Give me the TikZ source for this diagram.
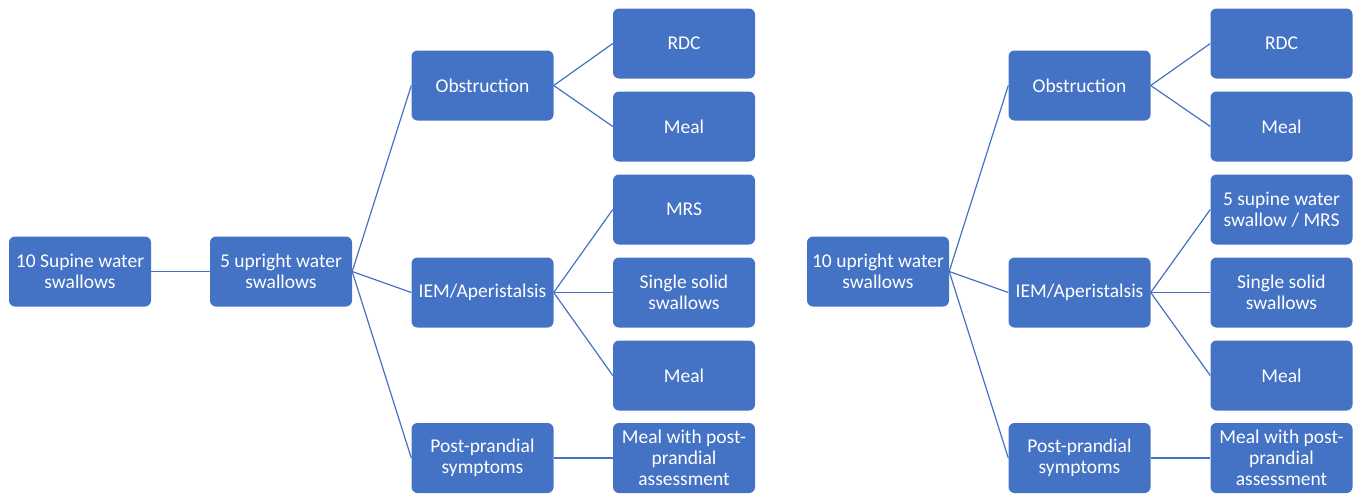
\documentclass[tikz,border=0pt]{standalone}
\usepackage{fontspec}
\setmainfont{Carlito}
\usepackage{tikz}
\definecolor{boxblue}{HTML}{4472C4}

\begin{document}
\begin{tikzpicture}[x=1pt, y=-1pt, every node/.style = {shape=rectangle, rounded corners=6pt, fill=boxblue, text=white, align=center,
			minimum width=142pt, minimum height=70pt, inner sep=2pt, font=\fontsize{19.5}{21}\selectfont},
			link/.style = {draw=boxblue, line width=1.2pt}]
			\useasboundingbox (0,0) rectangle (1358,493);
			% left tree
			\node (sup) at (80,271.5) {10 Supine water\\swallows};
			\node (upfive) at (281,271.5) {5 upright water\\swallows};
			\node (obsA) at (482.5,85.5) {Obstruction};
			\node (iemA) at (482.5,292.5) {IEM/Aperistalsis};
			\node (postA) at (482.5,458) {Post-prandial\\symptoms};
			\node (rdcA) at (684,43.5) {RDC};
			\node (mealA) at (684,126.5) {Meal};
			\node (mrsA) at (684,209.5) {MRS};
			\node (solidA) at (684,292.5) {Single solid\\swallows};
			\node (mealB) at (684,375.5) {Meal};
			\node (mealpostA) at (684,458) {Meal with post-\\prandial\\assessment};
			\draw[link] (sup.east) -- (upfive.west);
			\draw[link] (upfive.east) -- (obsA.west);
			\draw[link] (upfive.east) -- (iemA.west);
			\draw[link] (upfive.east) -- (postA.west);
			\draw[link] (obsA.east) -- (rdcA.west);
			\draw[link] (obsA.east) -- (mealA.west);
			\draw[link] (iemA.east) -- (mrsA.west);
			\draw[link] (iemA.east) -- (solidA.west);
			\draw[link] (iemA.east) -- (mealB.west);
			\draw[link] (postA.east) -- (mealpostA.west);
			% right tree
			\node (upten) at (878,271.5) {10 upright water\\swallows};
			\node (obsB) at (1079.5,85.5) {Obstruction};
			\node (iemB) at (1079.5,292.5) {IEM/Aperistalsis};
			\node (postB) at (1079.5,458) {Post-prandial\\symptoms};
			\node (rdcB) at (1281.5,43.5) {RDC};
			\node (mealC) at (1281.5,126.5) {Meal};
			\node (mrsB) at (1281.5,209.5) {5 supine water\\swallow / MRS};
			\node (solidB) at (1281.5,292.5) {Single solid\\swallows};
			\node (mealD) at (1281.5,375.5) {Meal};
			\node (mealpostB) at (1281.5,458) {Meal with post-\\prandial\\assessment};
			\draw[link] (upten.east) -- (obsB.west);
			\draw[link] (upten.east) -- (iemB.west);
			\draw[link] (upten.east) -- (postB.west);
			\draw[link] (obsB.east) -- (rdcB.west);
			\draw[link] (obsB.east) -- (mealC.west);
			\draw[link] (iemB.east) -- (mrsB.west);
			\draw[link] (iemB.east) -- (solidB.west);
			\draw[link] (iemB.east) -- (mealD.west);
			\draw[link] (postB.east) -- (mealpostB.west);
\end{tikzpicture}
\end{document}
